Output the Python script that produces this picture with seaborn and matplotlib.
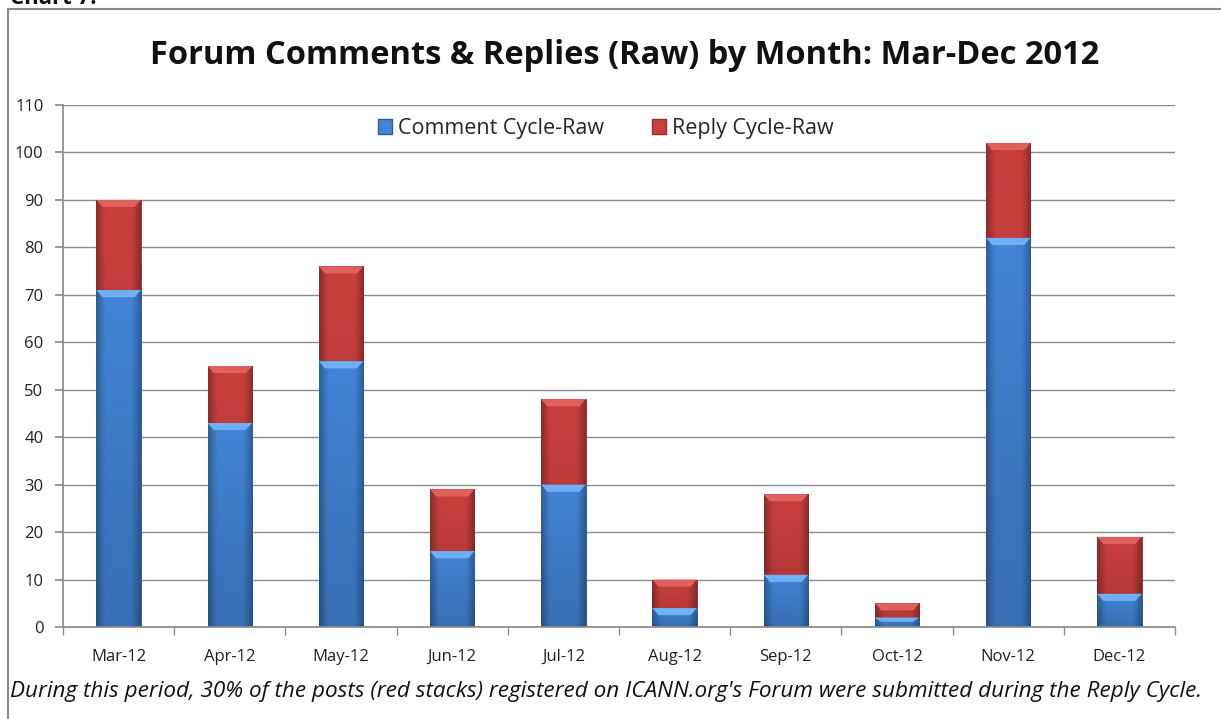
import matplotlib
matplotlib.use("Agg")
import matplotlib.pyplot as plt
import seaborn as sns
import pandas as pd
import numpy as np
from matplotlib.patches import Rectangle, Polygon, Patch
from matplotlib.colors import to_rgb

months = ["Mar-12", "Apr-12", "May-12", "Jun-12", "Jul-12", "Aug-12", "Sep-12", "Oct-12", "Nov-12", "Dec-12"]
comment_raw = [71, 43, 56, 16, 30, 4, 11, 2, 82, 7]
reply_raw = [19, 12, 20, 13, 18, 6, 17, 3, 20, 12]
yticks = list(range(0, 111, 10))

sns.set_theme(style="white")
plt.rcParams['font.family'] = ['Open Sans', 'DejaVu Sans']

df = pd.DataFrame({"month": months, "comment": comment_raw, "reply": reply_raw})
df["total"] = df["comment"] + df["reply"]

fig = plt.figure(figsize=(12.21, 7.19), dpi=100)
ax = fig.add_axes([63/1221, 1-627/719, (1175-63)/1221, (627-105)/719])

blue = "#4285D6"
red = "#C83F3D"
sns.barplot(data=df, x="month", y="total", color=red, width=0.4, ax=ax, saturation=1,
            edgecolor="#8E2B2A", linewidth=0.6)
n_red = len(ax.patches)
sns.barplot(data=df, x="month", y="comment", color=blue, width=0.4, ax=ax, saturation=1,
            edgecolor="#2D5E9B", linewidth=0.6)

styles = {
    "red": dict(mid=red, bevel="#E0605E"),
    "blue": dict(mid=blue, bevel="#6FB0F5"),
}
xs = np.linspace(-1, 1, 64)
hprof = 1.0 - 0.30 * np.clip((np.abs(xs) - 0.55) / 0.45, 0, 1) ** 1.3
patches = list(ax.patches)
for i, p in enumerate(patches):
    st = styles["red"] if i < n_red else styles["blue"]
    x0, y0 = p.get_x(), p.get_y()
    w, h = p.get_width(), p.get_height()
    vprof = np.linspace(1.0, 0.84, 48)
    base = np.array(to_rgb(st["mid"]))
    img = (vprof[:, None, None] * hprof[None, :, None]) * base[None, None, :]
    im = ax.imshow(np.clip(img, 0, 1), aspect="auto", extent=(x0, x0 + w, y0, y0 + h),
                   zorder=p.get_zorder() + 0.1, interpolation="bicubic")
    im.set_clip_path(p)
    bh = min(1.5, h * 0.45)
    inset = w * 0.14
    top = y0 + h
    bev = Polygon([(x0, top), (x0 + w, top), (x0 + w - inset, top - bh), (x0 + inset, top - bh)],
                  closed=True, facecolor=st["bevel"], edgecolor="none", zorder=p.get_zorder() + 0.2)
    ax.add_patch(bev)

ax.set_ylim(0, 110)
ax.set_xlim(-0.5, len(months) - 0.5)
ax.set_yticks(yticks)
ax.set_yticklabels([str(t) for t in yticks], fontsize=12, color="#222222")
ax.set_xticks(range(len(months)))
ax.set_xticklabels(months, fontsize=12, color="#222222")
ax.set_xlabel("")
ax.set_ylabel("")
ax.yaxis.grid(True, color="#8C8C8C", linewidth=1.0)
ax.set_axisbelow(True)
for s in ["top", "right"]:
    ax.spines[s].set_visible(False)
ax.spines["left"].set_color("#8C8C8C")
ax.spines["bottom"].set_color("#8C8C8C")
ax.tick_params(axis="y", which="both", left=True, length=6, color="#8C8C8C", pad=8)
ax.tick_params(axis="x", bottom=False, pad=10)
ax.set_xticks(np.arange(-0.5, len(months), 1.0), minor=True)
ax.tick_params(axis="x", which="minor", bottom=True, length=6, color="#8C8C8C")

handles = [Patch(facecolor=blue, edgecolor="#2C5E9E", label="Comment Cycle-Raw"),
           Patch(facecolor=red, edgecolor="#962D2C", label="Reply Cycle-Raw")]
leg = ax.legend(handles=handles, loc="center", bbox_to_anchor=(0.488, 0.955), ncol=2,
                frameon=True, facecolor="white", edgecolor="white", fontsize=15.5,
                handlelength=0.65, handleheight=0.65, handletextpad=0.3, columnspacing=2.2,
                framealpha=1)

fig.text(625/1221, 1-55/719, "Forum Comments & Replies (Raw) by Month: Mar-Dec 2012",
         ha="center", va="center", fontsize=23.5, fontweight="bold", color="#111111")
fig.text(10/1221, 1-4/719, "Chart 7:", ha="left", va="baseline", fontsize=16, fontweight="bold", color="#111111")
fig.text(10/1221, 1-691/719,
         "During this period, 30% of the posts (red stacks) registered on ICANN.org's Forum were submitted during the Reply Cycle.",
         ha="left", va="center", fontsize=16.2, style="italic", color="#111111")

fig.add_artist(Rectangle((8/1221, -0.1), 1.2, 1 - 9/719 + 0.1, transform=fig.transFigure,
                         fill=False, edgecolor="#8A8A8A", linewidth=1.5))

fig.savefig("out.png", dpi=100)
